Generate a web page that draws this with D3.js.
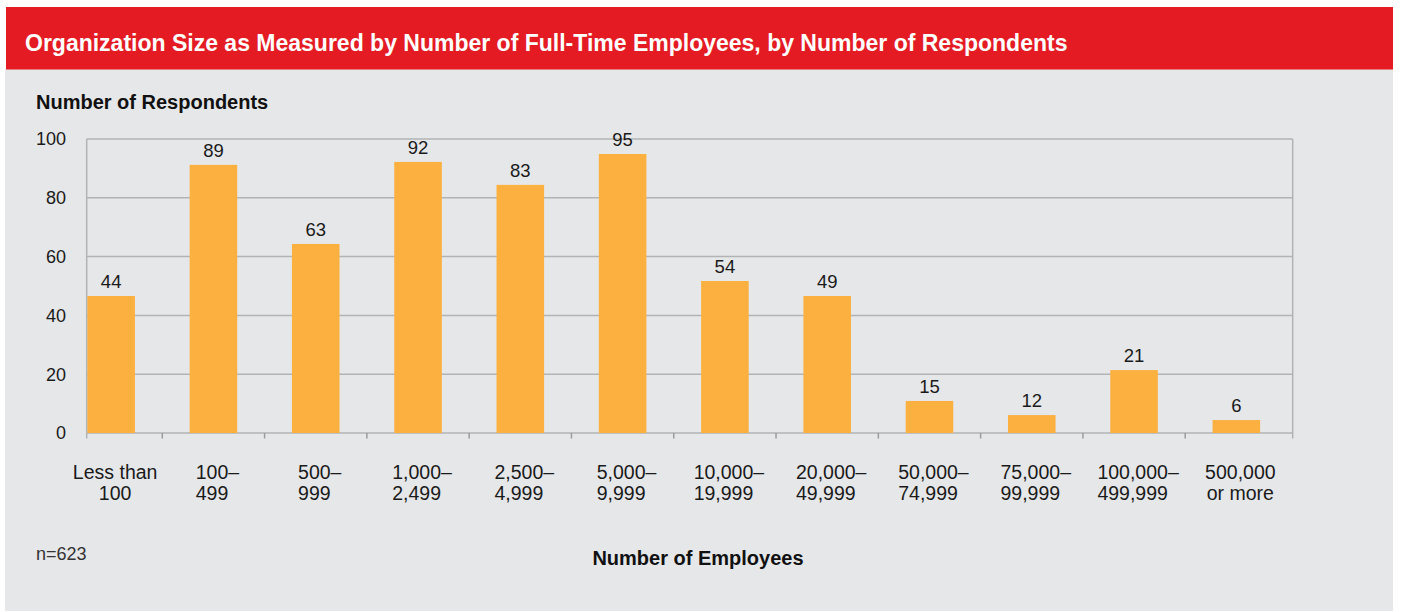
<!DOCTYPE html>
<html>
<head>
<meta charset="utf-8">
<script src="https://cdn.jsdelivr.net/npm/d3@7"></script>
<style>
  html, body { margin: 0; padding: 0; background: #ffffff; }
  svg { display: block; font-family: "Liberation Sans", Arial, Helvetica, sans-serif; }
</style>
</head>
<body>
<svg id="chart" width="1401" height="612"></svg>
<script>
// ---- data ----
const titleText = "Organization Size as Measured by Number of Full-Time Employees, by Number of Respondents";
const yAxisTitle = "Number of Respondents";
const xAxisTitle = "Number of Employees";
const noteText = "n=623";
const categoryLine1 = ["Less than", "100–", "500–", "1,000–", "2,500–", "5,000–", "10,000–", "20,000–", "50,000–", "75,000–", "100,000–", "500,000"];
const categoryLine2 = ["100", "499", "999", "2,499", "4,999", "9,999", "19,999", "49,999", "74,999", "99,999", "499,999", "or more"];
const respondents = [44, 89, 63, 92, 83, 95, 54, 49, 15, 12, 21, 6];           // printed values
const barHeights  = [46.6, 91.2, 64.3, 92.2, 84.4, 94.9, 51.7, 46.6, 10.9, 6.1, 21.4, 4.4]; // bar heights as drawn
const yTicks = [0, 20, 40, 60, 80, 100];

// ---- layout ----
const svg = d3.select("#chart");
const plot = { left: 86.7, right: 1292.7, top: 139, bottom: 433 };

// panel + header
svg.append("rect").attr("x", 5).attr("y", 69).attr("width", 1388).attr("height", 542).attr("fill", "#e6e7e9");
svg.append("rect").attr("x", 6).attr("y", 7).attr("width", 1387).attr("height", 62.5).attr("fill", "#e41b23");
svg.append("text").attr("x", 25).attr("y", 50.5)
  .attr("fill", "#ffffff").attr("font-weight", "bold").attr("font-size", 23)
  .text(titleText);

const x = d3.scaleBand().domain(d3.range(categoryLine1.length))
  .range([60, 1287.5]).paddingInner(0.535).paddingOuter(0.2675);
const y = d3.scaleLinear().domain([0, 100]).range([plot.bottom, plot.top]);
const step = x.step();
const gap = step - x.bandwidth();

// gridlines
const g = svg.append("g");
g.selectAll("line.grid").data(yTicks).enter().append("line")
  .attr("class", "grid")
  .attr("x1", plot.left).attr("x2", plot.right)
  .attr("y1", d => y(d)).attr("y2", d => y(d))
  .attr("stroke", "#b2b3b5").attr("stroke-width", 1.5);

// vertical frame lines
[plot.left, plot.right].forEach(px => {
  g.append("line").attr("x1", px).attr("x2", px)
    .attr("y1", y(100)).attr("y2", y(0) + 5.5)
    .attr("stroke", "#b2b3b5").attr("stroke-width", 1.5);
});

// category boundary ticks
const boundaries = d3.range(1, categoryLine1.length).map(i => x(i) - gap / 2);
g.selectAll("line.tick").data(boundaries).enter().append("line")
  .attr("class", "tick")
  .attr("x1", d => d).attr("x2", d => d)
  .attr("y1", y(0)).attr("y2", y(0) + 5.5)
  .attr("stroke", "#9a9b9d").attr("stroke-width", 1.5);

// y tick labels
svg.selectAll("text.ytick").data(yTicks).enter().append("text")
  .attr("class", "ytick")
  .attr("x", 66).attr("y", d => y(d)).attr("dy", "0.35em")
  .attr("text-anchor", "end").attr("font-size", 18).attr("fill", "#1a1a1a")
  .text(d => d);

// bars
svg.selectAll("rect.bar").data(barHeights).enter().append("rect")
  .attr("class", "bar")
  .attr("x", (d, i) => x(i)).attr("width", x.bandwidth())
  .attr("y", d => y(d)).attr("height", d => y(0) - y(d))
  .attr("fill", "#fbb040");

// value labels
svg.selectAll("text.val").data(respondents).enter().append("text")
  .attr("class", "val")
  .attr("x", (d, i) => x(i) + x.bandwidth() / 2)
  .attr("y", (d, i) => y(barHeights[i]) - 8)
  .attr("text-anchor", "middle").attr("font-size", 18.5).attr("fill", "#1a1a1a")
  .text(d => d);

// category labels (two lines)
const catG = svg.append("g");
categoryLine1.forEach((l1, i) => {
  const cx = x(i) + x.bandwidth() / 2 + 4;
  const grp = catG.append("g");
  const t1 = grp.append("text").attr("y", 479).attr("font-size", 19.5).attr("fill", "#1a1a1a").text(l1);
  const t2 = grp.append("text").attr("y", 500).attr("font-size", 19.5).attr("fill", "#1a1a1a").text(categoryLine2[i]);
  if (l1.endsWith("–")) {
    const w = Math.max(t1.node().getComputedTextLength(), t2.node().getComputedTextLength());
    t1.attr("x", cx - w / 2); t2.attr("x", cx - w / 2);
  } else {
    t1.attr("x", cx).attr("text-anchor", "middle");
    t2.attr("x", cx).attr("text-anchor", "middle");
  }
});

// axis titles and note
svg.append("text").attr("x", 36).attr("y", 109).attr("font-weight", "bold").attr("font-size", 20).attr("fill", "#111")
  .text(yAxisTitle);
svg.append("text").attr("x", 698).attr("y", 565).attr("text-anchor", "middle").attr("font-weight", "bold").attr("font-size", 20).attr("fill", "#111")
  .text(xAxisTitle);
svg.append("text").attr("x", 36).attr("y", 560).attr("font-size", 18).attr("fill", "#333")
  .text(noteText);
</script>
</body>
</html>
